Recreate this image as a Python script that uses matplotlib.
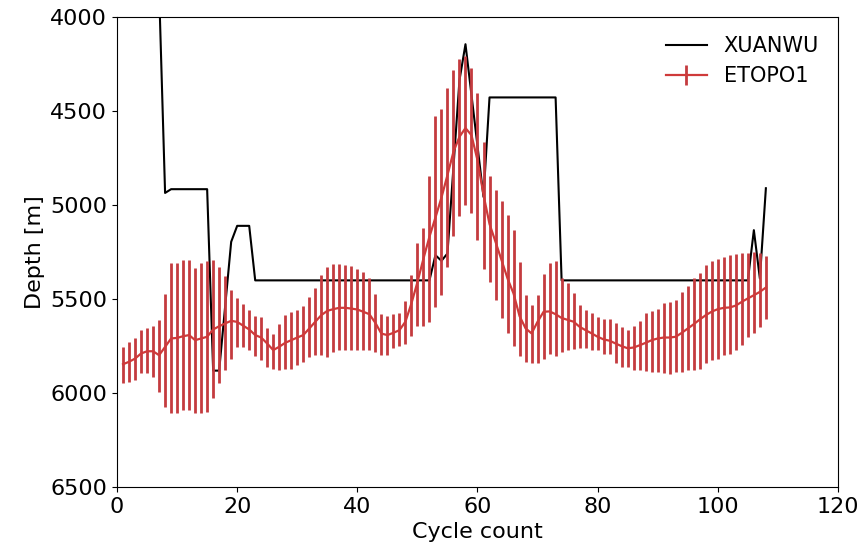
import numpy as np
from matplotlib import pyplot as plt

# XUANWU track (break points of the black line)
xuanwu_cycle = [7, 8, 9, 15, 16, 17, 19, 20, 22, 23, 52, 53, 54, 55, 57, 58,
                61, 62, 73, 74, 105, 106, 107, 108]
xuanwu_depth = [3850, 4935, 4915, 4915, 5880, 5880, 5195, 5110, 5110, 5400,
                5400, 5266, 5296, 5257, 4335, 4144, 4956, 4427, 4427, 5400,
                5400, 5133, 5390, 4910]

# ETOPO1 depth along the track, with the range at each cycle
etopo_cycle = list(range(1, 109))
etopo_depth = [5846, 5833, 5816, 5789, 5777, 5777, 5798, 5754, 5709, 5706,
               5697, 5691, 5718, 5709, 5700, 5661, 5644, 5629, 5615, 5621,
               5641, 5661, 5691, 5704, 5736, 5771, 5753, 5732, 5718, 5704,
               5691, 5656, 5620, 5585, 5562, 5553, 5546, 5546, 5550, 5555,
               5567, 5580, 5626, 5683, 5691, 5679, 5665, 5620, 5523, 5410,
               5285, 5168, 5066, 4960, 4840, 4716, 4636, 4590, 4628, 4761,
               4945, 5100, 5195, 5292, 5390, 5470, 5590, 5655, 5682, 5620,
               5567, 5565, 5580, 5600, 5610, 5620, 5647, 5665, 5682, 5700,
               5714, 5721, 5736, 5750, 5761, 5757, 5745, 5732, 5718, 5709,
               5704, 5704, 5700, 5679, 5656, 5633, 5608, 5585, 5566, 5553,
               5546, 5544, 5534, 5514, 5496, 5479, 5461, 5438]
etopo_top = [5754, 5727, 5706, 5665, 5653, 5644, 5612, 5473, 5310, 5310,
             5289, 5289, 5333, 5307, 5298, 5293, 5328, 5378, 5452, 5496,
             5525, 5555, 5590, 5597, 5651, 5686, 5633, 5585, 5567, 5558,
             5537, 5491, 5438, 5372, 5328, 5314, 5314, 5319, 5324, 5337,
             5355, 5385, 5473, 5580, 5590, 5580, 5573, 5509, 5370, 5200,
             5124, 4846, 4528, 4486, 4379, 4282, 4225, 4205, 4273, 4406,
             4663, 4843, 4920, 4978, 5053, 5133, 5301, 5476, 5532, 5478,
             5365, 5307, 5296, 5390, 5416, 5466, 5532, 5555, 5576, 5594,
             5603, 5608, 5626, 5647, 5665, 5644, 5615, 5576, 5562, 5551,
             5520, 5514, 5502, 5461, 5431, 5390, 5360, 5319, 5296, 5284,
             5275, 5266, 5261, 5257, 5252, 5248, 5257, 5271]
etopo_bottom = [5948, 5940, 5931, 5895, 5895, 5913, 5993, 6073, 6108, 6108,
                6091, 6091, 6108, 6105, 6099, 6028, 5948, 5878, 5816, 5754,
                5755, 5768, 5803, 5824, 5860, 5869, 5878, 5874, 5869, 5851,
                5833, 5810, 5798, 5798, 5810, 5780, 5771, 5771, 5771, 5771,
                5768, 5768, 5780, 5798, 5798, 5762, 5750, 5739, 5695, 5642,
                5643, 5620, 5540, 5479, 5330, 5165, 5055, 5000, 5041, 5186,
                5337, 5410, 5505, 5600, 5680, 5750, 5800, 5835, 5842, 5838,
                5820, 5789, 5800, 5780, 5771, 5766, 5762, 5762, 5768, 5771,
                5789, 5792, 5838, 5860, 5863, 5878, 5878, 5881, 5887, 5887,
                5892, 5899, 5887, 5887, 5878, 5878, 5869, 5842, 5824, 5816,
                5798, 5793, 5771, 5745, 5700, 5679, 5647, 5603]

depth = np.array(etopo_depth)
err = [depth - np.array(etopo_top), np.array(etopo_bottom) - depth]

plt.rcParams['font.size'] = 16

fig, ax = plt.subplots(figsize=(8.63, 5.53), dpi=100)
fig.subplots_adjust(left=0.1356, right=0.971, top=0.969, bottom=0.119)

ax.plot(xuanwu_cycle, xuanwu_depth, 'k', lw=1.5, label='XUANWU')
ax.errorbar(etopo_cycle, depth, yerr=err, color='#cf3a3a', ecolor='#c43b3f',
            elinewidth=2, lw=1.6, capsize=0, label='ETOPO1')

ax.set_xlim(0, 120)
ax.set_ylim(6500, 4000)
ax.set_xticks(range(0, 121, 20))
ax.set_yticks(range(4000, 6501, 500))
ax.set_xlabel('Cycle count')
ax.set_ylabel('Depth [m]')
ax.legend(loc='upper right', frameon=False, fontsize=15)

fig.savefig('out.png', dpi=100)
